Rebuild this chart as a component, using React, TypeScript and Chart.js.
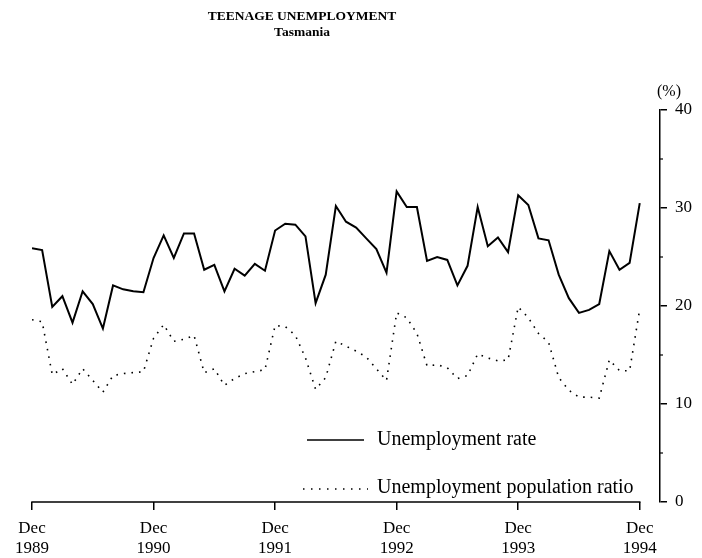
import React, { useEffect, useRef } from 'react';
import { Chart, registerables } from 'chart.js';

Chart.register(...registerables);

// Monthly observations, Dec 1989 (index 0) to Dec 1994 (index 60)
const UNEMPLOYMENT_RATE = [
  25.9, 25.7, 19.9, 21.0, 18.3, 21.5, 20.2, 17.7, 22.1, 21.7, 21.5, 21.4,
  24.9, 27.2, 24.9, 27.4, 27.4, 23.7, 24.2, 21.5, 23.8, 23.1, 24.3, 23.6,
  27.7, 28.4, 28.3, 27.1, 20.3, 23.2, 30.2, 28.6, 28.0, 26.9, 25.8, 23.4,
  31.7, 30.1, 30.1, 24.6, 25.0, 24.7, 22.1, 24.1, 30.1, 26.1, 27.0, 25.5,
  31.3, 30.3, 26.9, 26.7, 23.2, 20.8, 19.3, 19.6, 20.2, 25.6, 23.7, 24.4, 30.5,
];
const UNEMPLOYMENT_POP_RATIO = [
  18.6, 18.4, 13.0, 13.6, 12.0, 13.6, 12.4, 11.2, 12.9, 13.1, 13.2, 13.3,
  16.7, 18.1, 16.4, 16.6, 17.0, 13.2, 13.6, 11.9, 12.6, 13.1, 13.3, 13.5,
  18.0, 17.9, 17.0, 14.7, 11.5, 12.7, 16.4, 15.9, 15.4, 14.8, 13.6, 12.4,
  19.3, 18.8, 17.2, 13.9, 14.0, 13.7, 12.6, 12.9, 15.1, 14.7, 14.4, 14.5,
  19.9, 18.8, 17.2, 16.3, 12.7, 11.4, 10.7, 10.7, 10.6, 14.5, 13.4, 13.4, 19.7,
];
const X_TICK_MONTHS = [0, 12, 24, 36, 48, 60];
const X_TICK_MONTH_LABEL = 'Dec';
const X_TICK_YEARS = ['1989', '1990', '1991', '1992', '1993', '1994'];
const Y_TICKS = [0, 10, 20, 30, 40];
const Y_MINOR_TICKS = [5, 15, 25, 35];
const SERIES_NAMES = ['Unemployment rate', 'Unemployment population ratio'];
const TITLE = 'TEENAGE UNEMPLOYMENT';
const SUBTITLE = 'Tasmania';
const Y_UNIT = '(%)';

const FONT = '"Liberation Serif", "Times New Roman", serif';

const decorPlugin = {
  id: 'decor',
  afterDraw(chart: any) {
    const ctx = chart.ctx;
    const xs = chart.scales.x;
    const ys = chart.scales.y;
    const area = chart.chartArea;
    ctx.save();
    ctx.fillStyle = '#000';
    ctx.strokeStyle = '#000';

    // Titles
    ctx.textAlign = 'center';
    ctx.textBaseline = 'middle';
    ctx.font = `bold 13.5px ${FONT}`;
    ctx.fillText(TITLE, 302, 17);
    ctx.fillText(SUBTITLE, 302, 33);

    // Unit label
    ctx.font = `16px ${FONT}`;
    ctx.fillText(Y_UNIT, 669, 92);

    // X axis line (only across data span)
    ctx.lineWidth = 1.5;
    ctx.beginPath();
    ctx.moveTo(xs.getPixelForValue(X_TICK_MONTHS[0]) - 0.75, area.bottom);
    ctx.lineTo(xs.getPixelForValue(X_TICK_MONTHS[X_TICK_MONTHS.length - 1]) + 0.75, area.bottom);
    ctx.stroke();

    // Minor y ticks
    ctx.lineWidth = 1.2;
    for (const v of Y_MINOR_TICKS) {
      const py = ys.getPixelForValue(v);
      ctx.beginPath();
      ctx.moveTo(ys.left, py);
      ctx.lineTo(ys.left + 3, py);
      ctx.stroke();
    }

    // Legend
    ctx.lineWidth = 1.5;
    ctx.beginPath();
    ctx.moveTo(307, 440);
    ctx.lineTo(364, 440);
    ctx.stroke();
    ctx.setLineDash([1.5, 6.5]);
    ctx.beginPath();
    ctx.moveTo(303, 489);
    ctx.lineTo(368, 489);
    ctx.stroke();
    ctx.setLineDash([]);
    ctx.textAlign = 'left';
    ctx.font = `20px ${FONT}`;
    ctx.fillText(SERIES_NAMES[0], 377, 440);
    ctx.fillText(SERIES_NAMES[1], 377, 488);

    ctx.restore();
  },
};

export default function App() {
  const canvasRef = useRef<HTMLCanvasElement | null>(null);

  useEffect(() => {
    const canvas = canvasRef.current;
    if (!canvas) return;
    const toPoints = (arr: number[]) => arr.map((v, i) => ({ x: i, y: v }));
    const chart = new Chart(canvas, {
      type: 'line',
      data: {
        datasets: [
          {
            label: SERIES_NAMES[0],
            data: toPoints(UNEMPLOYMENT_RATE),
            borderColor: '#000',
            borderWidth: 2,
            pointRadius: 0,
            tension: 0,
            fill: false,
          },
          {
            label: SERIES_NAMES[1],
            data: toPoints(UNEMPLOYMENT_POP_RATIO),
            borderColor: '#000',
            borderWidth: 1.6,
            borderDash: [1.6, 6],
            pointRadius: 0,
            tension: 0,
            fill: false,
          },
        ],
      },
      options: {
        responsive: false,
        animation: false,
        devicePixelRatio: 1,
        layout: { padding: { top: 110, left: 32, right: 0, bottom: 0 } },
        plugins: {
          legend: { display: false },
          tooltip: { enabled: false },
          title: { display: false },
        },
        scales: {
          x: {
            type: 'linear',
            min: 0,
            max: 62,
            afterBuildTicks: (s: any) => {
              s.ticks = X_TICK_MONTHS.map((v) => ({ value: v }));
            },
            afterFit: (s: any) => {
              s.height = 56;
            },
            border: { display: false },
            grid: {
              drawOnChartArea: false,
              drawTicks: true,
              tickLength: 8,
              color: '#000',
              lineWidth: 1.5,
            },
            ticks: {
              autoSkip: false,
              maxRotation: 0,
              padding: 8,
              color: '#000',
              font: { family: FONT, size: 17, lineHeight: 1.2 },
              callback: (_v: any, i: number) => [X_TICK_MONTH_LABEL, X_TICK_YEARS[i]],
            },
          },
          y: {
            position: 'right',
            min: 0,
            max: 40,
            afterBuildTicks: (s: any) => {
              s.ticks = Y_TICKS.map((v) => ({ value: v }));
            },
            afterFit: (s: any) => {
              s.width = 42;
            },
            border: { display: true, color: '#000', width: 1.5 },
            grid: {
              drawOnChartArea: false,
              drawTicks: true,
              tickLength: 7,
              color: '#000',
              lineWidth: 1.5,
            },
            ticks: {
              padding: 8,
              color: '#000',
              font: { family: FONT, size: 17 },
            },
          },
        },
      },
      plugins: [decorPlugin],
    } as any);
    return () => chart.destroy();
  }, []);

  return (
    <div style={{ position: 'absolute', left: 0, top: 0, width: 702, height: 558, background: '#fff' }}>
      <canvas ref={canvasRef} width={702} height={558} style={{ display: 'block', width: 702, height: 558 }} />
    </div>
  );
}
